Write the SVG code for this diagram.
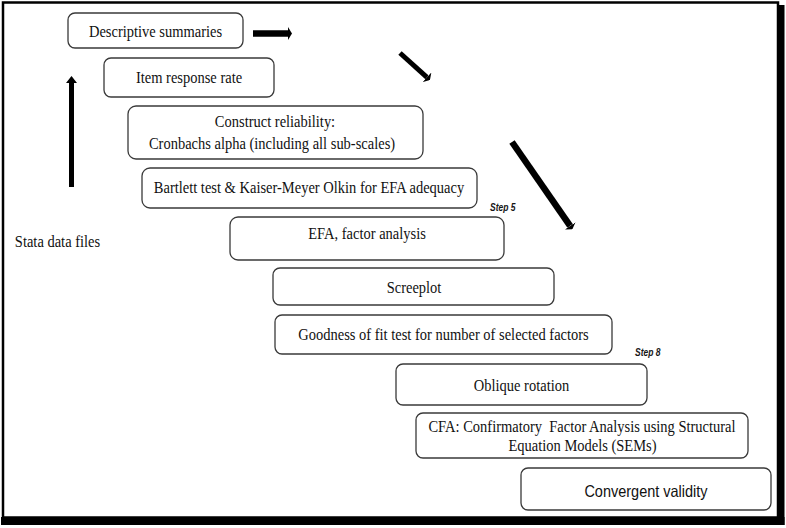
<svg xmlns="http://www.w3.org/2000/svg" width="786" height="528" viewBox="0 0 786 528">
  <style>
    .box { fill: #ffffff; stroke: #3a3a3a; stroke-width: 1.3; }
    .t { font-family: "Liberation Serif", "Times New Roman", serif; font-size: 14.5px; fill: #111111; text-anchor: middle; }
    .ts { font-family: "Liberation Sans", Arial, sans-serif; font-size: 14.5px; fill: #111111; text-anchor: middle; }
    .step { font-family: "Liberation Sans", Arial, sans-serif; font-size: 8.5px; font-weight: bold; font-style: italic; fill: #151515; }
    .conn { stroke: #000000; fill: none; stroke-linecap: butt; }
  </style>
  <defs>
    <marker id="headBig" markerUnits="userSpaceOnUse" viewBox="0 0 7 11" markerWidth="7" markerHeight="11" refX="0" refY="5.5" orient="auto">
      <path d="M0,0 L7,5.5 L0,11 z" fill="#000000"/>
    </marker>
    <marker id="headSmall" markerUnits="userSpaceOnUse" viewBox="0 0 4 13" markerWidth="4" markerHeight="13" refX="0" refY="6.5" orient="auto">
      <path d="M0,0 L4,6.5 L0,13 z" fill="#000000"/>
    </marker>
  </defs>

  <rect x="0" y="0" width="786" height="528" fill="#ffffff"/>
  <g id="frame">
    <rect x="778" y="5" width="6.5" height="520" fill="#000000"/>
    <rect x="1" y="517" width="783.5" height="8" fill="#000000"/>
    <rect x="3" y="2.5" width="775" height="515" fill="none" stroke="#000000" stroke-width="2.5"/>
  </g>

  <g id="connectors">
    <line class="conn" x1="71.5" y1="187" x2="71.5" y2="83" stroke-width="5" marker-end="url(#headBig)"/>
    <line class="conn" x1="253" y1="33.5" x2="288" y2="33.5" stroke-width="6.5" marker-end="url(#headSmall)"/>
    <line class="conn" x1="400" y1="53" x2="427" y2="77.3" stroke-width="5" marker-end="url(#headSmall)"/>
    <line class="conn" x1="512" y1="142" x2="570.1" y2="225.9" stroke-width="6.5" marker-end="url(#headSmall)"/>
  </g>

  <g id="stata">
    <text class="t" transform="translate(57.5,247) scale(1,1.2)">Stata data files</text>
  </g>

  <g id="descriptive">
    <rect class="box" x="68" y="13" width="175" height="35" rx="7"/>
    <text class="t" transform="translate(155.5,37) scale(1,1.2)">Descriptive summaries</text>
  </g>

  <g id="itemresponse">
    <rect class="box" x="104" y="58" width="170" height="39" rx="7"/>
    <text class="t" transform="translate(189,83) scale(1,1.2)">Item response rate</text>
  </g>

  <g id="reliability">
    <rect class="box" x="128" y="106" width="295" height="53" rx="8"/>
    <text class="t" transform="translate(275,127) scale(1,1.2)">Construct reliability:</text>
    <text class="t" transform="translate(272,149) scale(1,1.2)">Cronbachs alpha (including all sub-scales)</text>
  </g>

  <g id="bartlett">
    <rect class="box" x="142" y="168" width="335" height="40" rx="8"/>
    <text class="t" transform="translate(309,193) scale(1,1.2)">Bartlett test &amp; Kaiser-Meyer Olkin for EFA adequacy</text>
  </g>

  <g id="step5">
    <text class="step" transform="translate(490,211) scale(1,1.2)">Step 5</text>
  </g>

  <g id="efa">
    <rect class="box" x="230" y="217" width="274" height="43" rx="8"/>
    <text class="t" transform="translate(367,239) scale(1,1.2)">EFA, factor analysis</text>
  </g>

  <g id="screeplot">
    <rect class="box" x="273" y="268" width="281" height="37" rx="7"/>
    <text class="t" transform="translate(414,293) scale(1,1.2)">Screeplot</text>
  </g>

  <g id="goodness">
    <rect class="box" x="275" y="315" width="337" height="39" rx="7"/>
    <text class="t" transform="translate(443.5,340) scale(1,1.2)">Goodness of fit test for number of selected factors</text>
  </g>

  <g id="step8">
    <text class="step" transform="translate(635,356) scale(1,1.2)">Step 8</text>
  </g>

  <g id="oblique">
    <rect class="box" x="396" y="364" width="251" height="41" rx="7"/>
    <text class="t" transform="translate(521.5,391) scale(1,1.2)">Oblique rotation</text>
  </g>

  <g id="cfa">
    <rect class="box" x="416" y="413" width="332" height="45" rx="7"/>
    <text class="t" transform="translate(582,432) scale(1,1.2)">CFA: Confirmatory&#160; Factor Analysis using Structural</text>
    <text class="t" transform="translate(582.5,451) scale(1,1.2)">Equation Models (SEMs)</text>
  </g>

  <g id="convergent">
    <rect class="box" x="521" y="468" width="250" height="42" rx="7"/>
    <text class="ts" transform="translate(646,497) scale(1,1.15)">Convergent validity</text>
  </g>
</svg>
